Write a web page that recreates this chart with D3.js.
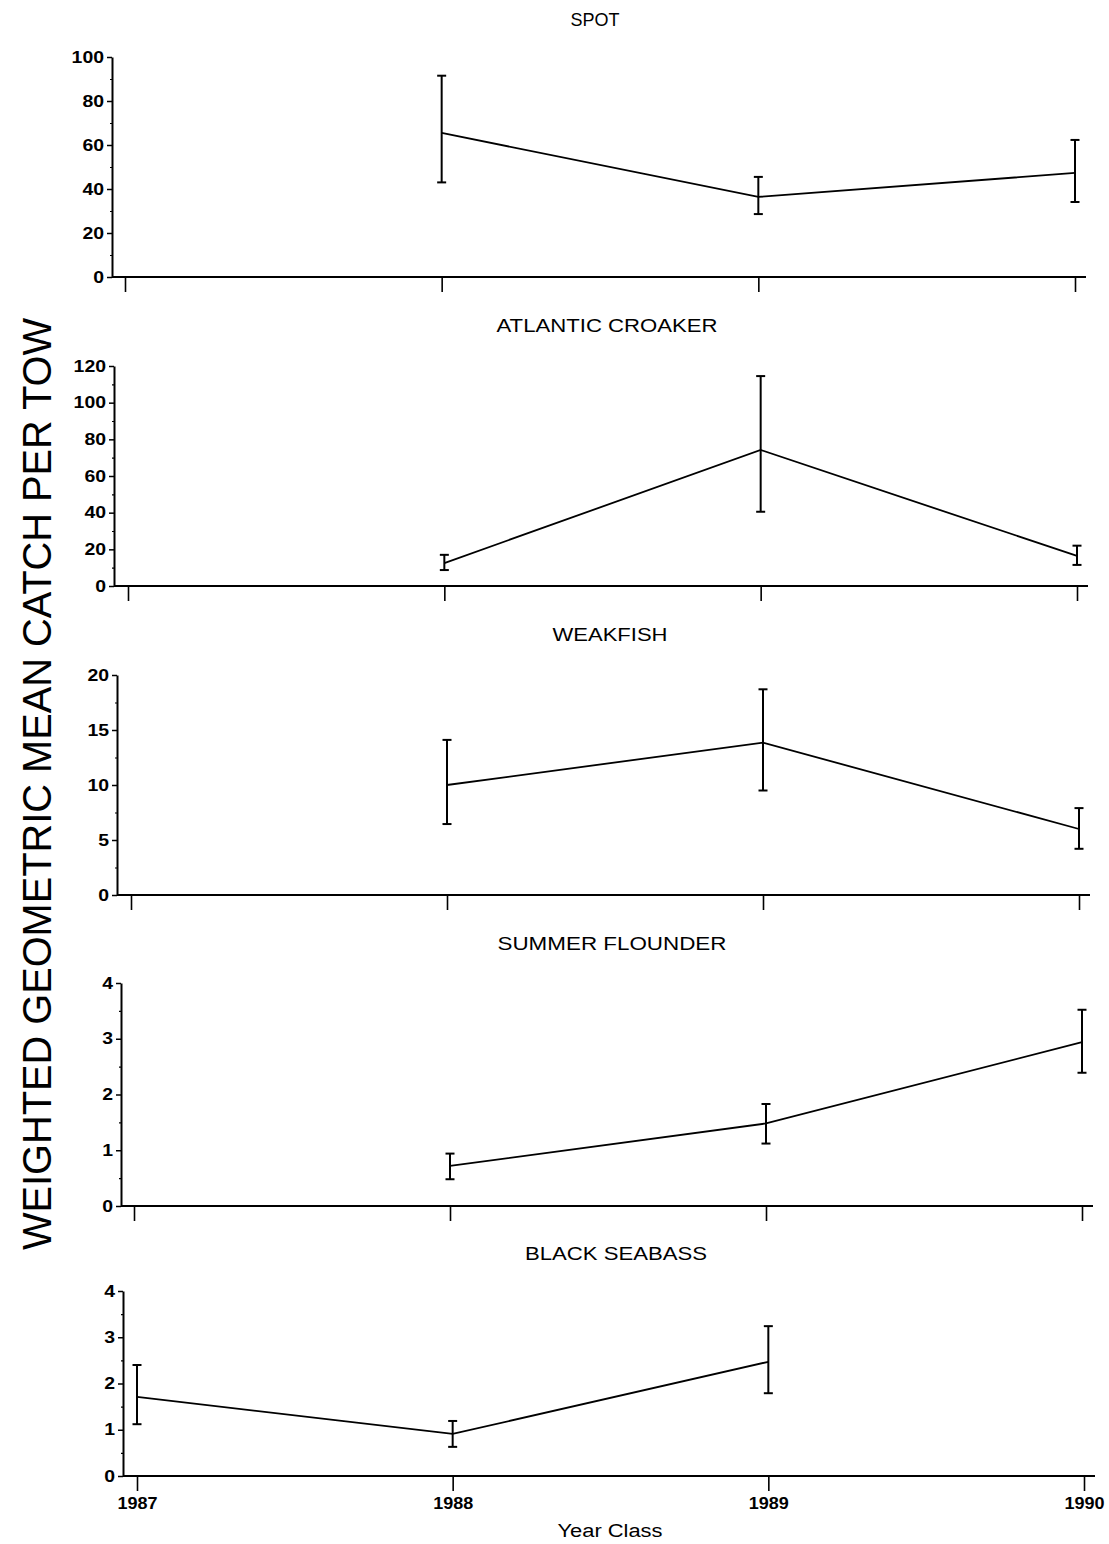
<!DOCTYPE html>
<html>
<head>
<meta charset="utf-8">
<script src="https://cdn.jsdelivr.net/npm/d3@7/dist/d3.min.js"></script>
<style>
  html, body { margin: 0; padding: 0; background: #fff; }
  svg { display: block; }
  text { font-family: "Liberation Sans", Arial, Helvetica, sans-serif; fill: #000; }
</style>
</head>
<body>
<svg id="chart" width="1109" height="1544"></svg>
<script>
// Year classes on the shared x axis
const yearClasses = [1987, 1988, 1989, 1990];

// Species panels, top to bottom
const speciesNames = ["SPOT", "ATLANTIC CROAKER", "WEAKFISH", "SUMMER FLOUNDER", "BLACK SEABASS"];

// Weighted geometric mean catch per tow with lower / upper interval bounds
const spotYears = [1988, 1989, 1990];
const spotMean  = [65.5, 36.4, 47.3];
const spotLow   = [43.0, 28.6, 34.1];
const spotHigh  = [91.5, 45.5, 62.3];

const croakerYears = [1988, 1989, 1990];
const croakerMean  = [12.5, 74.2, 16.4];
const croakerLow   = [8.7, 40.5, 11.5];
const croakerHigh  = [17.0, 114.5, 22.0];

const weakfishYears = [1988, 1989, 1990];
const weakfishMean  = [10.0, 13.85, 6.0];
const weakfishLow   = [6.45, 9.5, 4.2];
const weakfishHigh  = [14.1, 18.7, 7.9];

const flounderYears = [1988, 1989, 1990];
const flounderMean  = [0.72, 1.48, 2.94];
const flounderLow   = [0.48, 1.12, 2.39];
const flounderHigh  = [0.94, 1.83, 3.52];

const seabassYears = [1987, 1988, 1989];
const seabassMean  = [1.71, 0.91, 2.47];
const seabassLow   = [1.12, 0.63, 1.79];
const seabassHigh  = [2.40, 1.19, 3.24];

// Y axis extents and tick steps per panel
const yMax   = [100, 120, 20, 4, 4];
const yStep  = [20, 20, 5, 1, 1];

const xAxisTitle = "Year Class";
const yAxisTitle = "WEIGHTED GEOMETRIC MEAN CATCH PER TOW";

const seriesList = [
  [spotYears, spotMean, spotLow, spotHigh],
  [croakerYears, croakerMean, croakerLow, croakerHigh],
  [weakfishYears, weakfishMean, weakfishLow, weakfishHigh],
  [flounderYears, flounderMean, flounderLow, flounderHigh],
  [seabassYears, seabassMean, seabassLow, seabassHigh]
];

// Panel geometry (pixels)
const layout = {
  axisX:   [112, 114, 117, 121, 123],
  yTop:    [57, 366, 675, 983, 1291],
  yBottom: [277, 586, 895, 1206, 1476],
  xStart:  [125, 128, 131, 134, 137],
  xEnd:    [1075, 1077, 1079, 1082, 1084],
  titleY:  [26, 332, 641, 950, 1260],
  titleX:  [595, 607, 610, 612, 616],
  titleW:  [49, 221, 115, 229, 182]
};

const svg = d3.select("#chart");

speciesNames.forEach((name, i) => {
  const [yrs, mean, low, high] = seriesList[i];
  const g = svg.append("g");

  const x = d3.scaleLinear().domain([1987, 1990]).range([layout.xStart[i], layout.xEnd[i]]);
  const y = d3.scaleLinear().domain([0, yMax[i]]).range([layout.yBottom[i], layout.yTop[i]]);

  const major = d3.range(0, yMax[i] + yStep[i] / 2, yStep[i]);
  const minor = d3.range(yStep[i] / 2, yMax[i], yStep[i]);

  // Title
  g.append("text")
    .attr("x", layout.titleX[i])
    .attr("y", layout.titleY[i])
    .attr("text-anchor", "middle")
    .attr("font-size", 18)
    .attr("textLength", layout.titleW[i])
    .attr("lengthAdjust", "spacingAndGlyphs")
    .text(name);

  // Y axis (major ticks with labels)
  const yAxisG = g.append("g")
    .attr("transform", `translate(${layout.axisX[i]},0)`)
    .call(d3.axisLeft(y).tickValues(major).tickSize(5).tickSizeOuter(0).tickPadding(3)
      .tickFormat(d3.format("d")));
  yAxisG.select(".domain").attr("stroke", "#000").attr("stroke-width", 2);
  yAxisG.selectAll(".tick line").attr("stroke", "#000").attr("stroke-width", 1.5);
  yAxisG.selectAll(".tick text")
    .attr("font-family", "'Liberation Sans', Arial, sans-serif")
    .attr("font-size", 16)
    .attr("font-weight", "bold")
    .attr("fill", "#000")
    .each(function () {
      const t = d3.select(this);
      t.attr("textLength", t.text().length * 10.8).attr("lengthAdjust", "spacingAndGlyphs");
    });

  // Y axis minor ticks
  const yMinorG = g.append("g")
    .attr("transform", `translate(${layout.axisX[i]},0)`)
    .call(d3.axisLeft(y).tickValues(minor).tickSize(2).tickSizeOuter(0).tickFormat(""));
  yMinorG.select(".domain").remove();
  yMinorG.selectAll(".tick line").attr("stroke", "#000").attr("stroke-width", 1.2);

  // X axis
  const last = i === speciesNames.length - 1;
  const xAxisG = g.append("g")
    .attr("transform", `translate(0,${layout.yBottom[i]})`)
    .call(d3.axisBottom(x).tickValues(yearClasses).tickSize(15).tickPadding(8)
      .tickFormat(last ? d3.format("d") : () => ""));
  xAxisG.select(".domain").remove();
  xAxisG.selectAll(".tick line").attr("stroke", "#000").attr("stroke-width", 1.6);
  xAxisG.selectAll(".tick text")
    .attr("font-family", "'Liberation Sans', Arial, sans-serif")
    .attr("font-size", 16)
    .attr("font-weight", "bold")
    .attr("fill", "#000")
    .attr("dy", "0.6em")
    .each(function () {
      const t = d3.select(this);
      if (t.text()) t.attr("textLength", 40).attr("lengthAdjust", "spacingAndGlyphs");
    });
  g.append("line")
    .attr("x1", layout.axisX[i]).attr("x2", layout.xEnd[i] + 11)
    .attr("y1", layout.yBottom[i]).attr("y2", layout.yBottom[i])
    .attr("stroke", "#000").attr("stroke-width", 2.2);

  // Mean line
  const pts = yrs.map((yr, k) => ({ yr, m: mean[k], lo: low[k], hi: high[k] }));
  g.append("path")
    .datum(pts)
    .attr("fill", "none")
    .attr("stroke", "#000")
    .attr("stroke-width", 1.8)
    .attr("d", d3.line().x(d => x(d.yr)).y(d => y(d.m)));

  // Error bars
  const bars = g.selectAll(".err").data(pts).join("g").attr("class", "err");
  bars.append("line")
    .attr("x1", d => x(d.yr)).attr("x2", d => x(d.yr))
    .attr("y1", d => y(d.lo)).attr("y2", d => y(d.hi))
    .attr("stroke", "#000").attr("stroke-width", 2);
  ["lo", "hi"].forEach(key => {
    bars.append("line")
      .attr("x1", d => x(d.yr) - 4.5).attr("x2", d => x(d.yr) + 4.5)
      .attr("y1", d => y(d[key])).attr("y2", d => y(d[key]))
      .attr("stroke", "#000").attr("stroke-width", 2);
  });
});

// Shared axis titles
svg.append("text")
  .attr("x", 610)
  .attr("y", 1537)
  .attr("text-anchor", "middle")
  .attr("font-size", 18)
  .attr("textLength", 105)
  .attr("lengthAdjust", "spacingAndGlyphs")
  .text(xAxisTitle);

svg.append("text")
  .attr("transform", "translate(51,784) rotate(-90)")
  .attr("text-anchor", "middle")
  .attr("font-size", 40)
  .attr("textLength", 932)
  .attr("lengthAdjust", "spacingAndGlyphs")
  .text(yAxisTitle);
</script>
</body>
</html>
